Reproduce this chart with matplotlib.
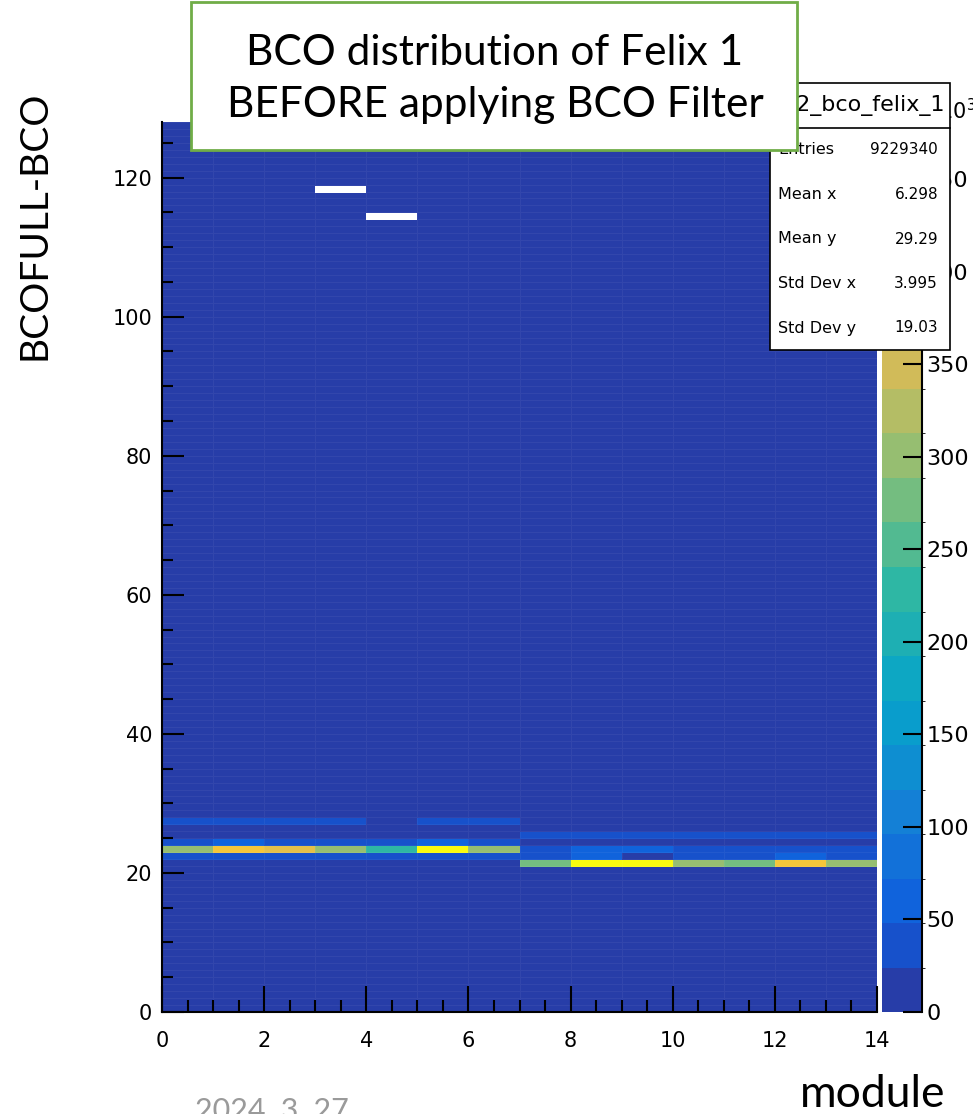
import numpy as np
import matplotlib
matplotlib.use("Agg")
import matplotlib.pyplot as plt
from matplotlib.colors import LinearSegmentedColormap, ListedColormap, BoundaryNorm
from matplotlib.patches import Rectangle
from matplotlib.lines import Line2D

# ---- data (counts in units of 10^3) ----
n_modules = 14
n_bco = 128
z_max = 481.0
bg = 8  # quiet cells

# populated BCOFULL-BCO rows, one value per module 0..13
row27 = [35, 35, 35, 35, bg, 35, 35, bg, bg, bg, bg, bg, bg, bg]
row25 = [bg, bg, bg, bg, bg, bg, bg, 35, 35, 35, 35, 35, 35, 35]
row24 = [35, 55, 35, 35, 35, 55, 35, bg, bg, bg, bg, bg, bg, bg]
row23 = [300, 395, 370, 300, 228, 470, 300, 35, 55, 55, 35, 35, 35, 35]
row22 = [35, 35, 35, 35, 35, 35, 35, 35, 55, bg, 35, 35, 55, 35]
row21 = [bg, bg, bg, bg, bg, bg, bg, 275, 470, 470, 300, 275, 395, 300]
empty_cells = [(3, 118), (4, 114)]  # (module, bco bin) with zero entries

stats_names = ["Entries", "Mean x", "Mean y", "Std Dev x", "Std Dev y"]
stats_values = ["9229340", "6.298", "29.29", "3.995", "19.03"]

# build the 2D histogram
z = np.full((n_modules, n_bco), float(bg))
for b, row in [(27, row27), (25, row25), (24, row24), (23, row23), (22, row22), (21, row21)]:
    z[:, b] = row
for m, b in empty_cells:
    z[m, b] = 0
z = np.ma.masked_equal(z, 0)

# ROOT kBird palette, 20 contour levels
stops = [0.0, 0.125, 0.25, 0.375, 0.5, 0.625, 0.75, 0.875, 1.0]
red = [0.2082, 0.0592, 0.0780, 0.0232, 0.1802, 0.5301, 0.8186, 0.9956, 0.9764]
green = [0.1664, 0.3599, 0.5041, 0.6419, 0.7178, 0.7492, 0.7328, 0.7862, 0.9832]
blue = [0.5293, 0.8684, 0.8385, 0.7914, 0.6425, 0.4662, 0.3499, 0.1968, 0.0539]
bird = LinearSegmentedColormap.from_list(
    "bird", list(zip(stops, zip(red, green, blue))), N=255)
n_lev = 20
lev_colors = [bird(int((i + 0.99) * 255 / n_lev) / 254.0) for i in range(n_lev)]
cmap = ListedColormap(lev_colors)
cmap.set_bad("white")
norm = BoundaryNorm(np.linspace(0, z_max, n_lev + 1), n_lev)

W, H = 973, 1114
fig = plt.figure(figsize=(W / 100, H / 100), dpi=100)

def fx(px):
    return px / W

def fy(py):
    return 1 - py / H

ax = fig.add_axes([fx(162), fy(1012), fx(877) - fx(162), fy(122) - fy(1012)])
mesh = ax.pcolormesh(np.arange(n_modules + 1), np.arange(n_bco + 1), z.T,
                     cmap=cmap, norm=norm, edgecolors=(1, 1, 1, 0.05), linewidth=0.6)
ax.set_xlim(0, 14)
ax.set_ylim(0, 128)
ax.set_xticks(np.arange(0, 15, 2))
ax.set_xticks(np.arange(0, 14.01, 0.5), minor=True)
ax.set_yticks(np.arange(0, 121, 20))
ax.set_yticks(np.arange(0, 128, 5), minor=True)
ax.tick_params(axis="x", which="major", direction="in", length=19, width=1.5,
               labelsize=15, pad=14)
ax.tick_params(axis="x", which="minor", direction="in", length=9, width=1.5)
ax.tick_params(axis="y", which="major", direction="in", length=16, width=1.5,
               labelsize=15, pad=7)
ax.tick_params(axis="y", which="minor", direction="in", length=8, width=1.5)
for s in ["top", "right"]:
    ax.spines[s].set_visible(False)
for s in ["left", "bottom"]:
    ax.spines[s].set_linewidth(1.5)

# colour bar
cax = fig.add_axes([fx(882), fy(1012), fx(922) - fx(882), fy(122) - fy(1012)])
cb = fig.colorbar(mesh, cax=cax, ticks=np.arange(0, 451, 50))
cb.outline.set_visible(False)
cax.spines["right"].set_visible(True)
cax.spines["right"].set_linewidth(1.5)
cax.tick_params(direction="in", length=14, width=1.5, labelsize=16, pad=3)
cax.yaxis.set_ticks_position("right")
fig.text(fx(922), fy(111), r"$\times10^{3}$", fontsize=15, va="center", ha="left", zorder=4)

# stats box
fig.add_artist(Rectangle((fx(770), fy(350)), fx(950) - fx(770), fy(83) - fy(350),
                         transform=fig.transFigure, facecolor="white",
                         edgecolor="black", linewidth=1.2, zorder=5))
fig.add_artist(Line2D([fx(770), fx(950)], [fy(128), fy(128)],
                      transform=fig.transFigure, color="black", linewidth=1.2, zorder=6))
fig.text(fx(945), fy(106), "h2_bco_felix_1", fontsize=16, ha="right", va="center", zorder=6)
for i, (name, val) in enumerate(zip(stats_names, stats_values)):
    yy = fy(150 + i * 44.5)
    fig.text(fx(778), yy, name, fontsize=11.5, ha="left", va="center", zorder=6)
    fig.text(fx(938), yy, val, fontsize=11, ha="right", va="center", zorder=6)

# slide title box
fig.add_artist(Rectangle((fx(191), fy(150)), fx(797) - fx(191), fy(2) - fy(150),
                         transform=fig.transFigure, facecolor="white",
                         edgecolor="#70ad47", linewidth=2, zorder=7))
fig.text(fx(495), fy(53), "BCO distribution of Felix 1", fontsize=30.5,
         family="Lato", ha="center", va="center", zorder=8)
fig.text(fx(495), fy(105), "BEFORE applying BCO Filter", fontsize=30.5,
         family="Lato", ha="center", va="center", zorder=8)

# slide labels
fig.text(fx(35), fy(225), "BCOFULL-BCO", fontsize=28, family="Lato",
         rotation=90, ha="center", va="center")
fig.text(fx(945), fy(1107), "module", fontsize=32, family="Lato",
         ha="right", va="baseline")
fig.text(fx(195), fy(1097), "2024. 3. 27", fontsize=22, family="Lato",
         color="#9a9a9a", ha="left", va="top")

fig.savefig("out.png", dpi=100)
